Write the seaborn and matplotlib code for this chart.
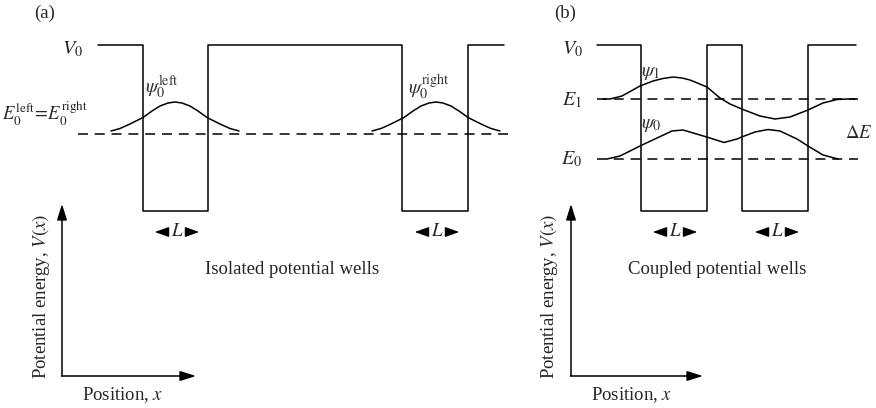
"""
Isolated vs coupled square potential wells (schematic).
Panel (a): two isolated wells with degenerate ground states.
Panel (b): two coupled wells with split levels E0 / E1.
"""

import matplotlib.pyplot as plt
import seaborn as sns

# ==========================================
# DATA (pixel frame)
# ==========================================
# potential profile, panel (a)
POT_A_X = [98, 143, 143, 208, 208, 402, 402, 468, 468, 504]
POT_A_Y = [45, 45, 211, 211, 45, 45, 211, 211, 45, 45]
# potential profile, panel (b)
POT_B_X = [597, 641, 641, 707, 707, 742, 742, 808, 808, 856]
POT_B_Y = [45, 45, 211, 211, 45, 45, 211, 211, 45, 45]

# energy levels
E_A = 134
E_B0, E_B1 = 159, 99

# ground state of one isolated well (offset from well centre)
GAUSS_DX = [-64, -55, -45, -32, -23, -15, -7, 0, 7, 15, 23, 32, 45, 55, 64]
GAUSS_Y = [131, 128.5, 124, 117.5, 111, 106, 103, 102, 103, 106, 111, 117.5, 124, 128.5, 131]
WELL_A_CENTRES = [175, 436]

# coupled-well states
PSI1_X = [603, 610, 622, 640, 653, 663, 673, 682, 690, 707, 720, 730, 743, 760, 775, 790, 808, 823, 837, 848, 855]
PSI1_Y = [99, 99, 96, 86, 81, 78.5, 77, 78, 80, 87, 98, 104, 109.5, 116, 119, 117, 110, 103, 99.5, 99, 99]
PSI0_X = [607, 620, 640, 657, 672, 683, 700, 710, 724, 737, 743, 755, 768, 780, 797, 808, 823, 838]
PSI0_Y = [159, 156, 146, 138, 131, 130, 135, 138, 142.5, 139, 136.5, 132, 129.5, 131, 139, 146, 155, 159]

# well-width markers (left tip, label, right tip)
L_A = [(152, 177, 202), (412, 437, 462)]
L_B = [(650, 675, 700), (752, 777, 802)]

# ==========================================
# STYLE
# ==========================================
sns.set_theme(style="white")
plt.rcParams["font.family"] = ["Liberation Serif", "DejaVu Serif"]
plt.rcParams["mathtext.fontset"] = "stix"

LW = 1.1
DASH = (0, (6.5, 4.5))
FS = 13.5


def draw_L(ax, left, mid, right, y=232):
    aprops = dict(arrowstyle="-|>,head_length=0.7,head_width=0.25", color="black", lw=1.0)
    ax.annotate("", xy=(left, y), xytext=(mid - 12, y), arrowprops=aprops)
    ax.annotate("", xy=(right, y), xytext=(mid + 12, y), arrowprops=aprops)
    ax.text(mid, y, r"$L$", ha="center", va="center", fontsize=FS)


def draw_axes_arrows(ax, x0, y0, ytip, xtip, ylab_x, xlab_x):
    aprops = dict(arrowstyle="-|>,head_length=0.8,head_width=0.25", color="black", lw=1.1,
                  shrinkA=0, shrinkB=0)
    ax.annotate("", xy=(x0, ytip), xytext=(x0, y0), arrowprops=aprops)
    ax.annotate("", xy=(xtip, y0), xytext=(x0 - 0.5, y0), arrowprops=aprops)
    ax.text(ylab_x, 296, r"Potential energy, $V(x)$", rotation=90,
            ha="center", va="center", fontsize=FS)
    ax.text(xlab_x, 395, r"Position, $x$", ha="center", va="center", fontsize=FS)


def main():
    fig = plt.figure(figsize=(8.76, 4.08), dpi=100)
    ax = fig.add_axes([0, 0, 1, 1])
    ax.set_xlim(0, 876)
    ax.set_ylim(408, 0)
    ax.axis("off")

    # ---------------- panel (a) ----------------
    sns.lineplot(x=POT_A_X, y=POT_A_Y, sort=False, estimator=None, color="black", lw=LW, ax=ax)
    ax.plot([78, 512], [E_A, E_A], color="black", lw=LW, ls=DASH)
    for c in WELL_A_CENTRES:
        sns.lineplot(x=[c + d for d in GAUSS_DX], y=GAUSS_Y, sort=False, estimator=None,
                     color="black", lw=LW, ax=ax)

    ax.text(45, 13, "(a)", ha="center", va="center", fontsize=FS)
    ax.text(73, 49, r"$V_0$", ha="center", va="center", fontsize=FS + 1)
    ax.text(162, 87, r"$\psi_0^{\mathrm{left}}$", ha="center", va="center", fontsize=FS + 1,
            color="#333333")
    ax.text(429, 87, r"$\psi_0^{\mathrm{right}}$", ha="center", va="center", fontsize=FS + 1,
            color="#333333")
    ax.text(45, 114, r"$E_0^{\mathrm{left}}\!=\!E_0^{\mathrm{right}}$", ha="center", va="center",
            fontsize=FS)
    for left, mid, right in L_A:
        draw_L(ax, left, mid, right)
    ax.text(292, 269, "Isolated potential wells", ha="center", va="center", fontsize=FS)
    draw_axes_arrows(ax, 62, 376, 204, 196, 41, 123)

    # ---------------- panel (b) ----------------
    sns.lineplot(x=POT_B_X, y=POT_B_Y, sort=False, estimator=None, color="black", lw=LW, ax=ax)
    ax.plot([597, 858], [E_B1, E_B1], color="black", lw=LW, ls=DASH)
    ax.plot([597, 858], [E_B0, E_B0], color="black", lw=LW, ls=DASH)
    sns.lineplot(x=PSI1_X, y=PSI1_Y, sort=False, estimator=None, color="black", lw=LW, ax=ax)
    sns.lineplot(x=PSI0_X, y=PSI0_Y, sort=False, estimator=None, color="black", lw=LW, ax=ax)

    ax.text(565, 13, "(b)", ha="center", va="center", fontsize=FS)
    ax.text(573, 49, r"$V_0$", ha="center", va="center", fontsize=FS + 1)
    ax.text(572, 100, r"$E_1$", ha="center", va="center", fontsize=FS + 1)
    ax.text(572, 159, r"$E_0$", ha="center", va="center", fontsize=FS + 1)
    ax.text(651, 73, r"$\psi_1$", ha="center", va="center", fontsize=FS + 1, color="#333333")
    ax.text(651, 124, r"$\psi_0$", ha="center", va="center", fontsize=FS + 1, color="#333333")
    ax.text(859, 133, r"$\Delta E$", ha="center", va="center", fontsize=FS)
    for left, mid, right in L_B:
        draw_L(ax, left, mid, right)
    ax.text(717, 269, "Coupled potential wells", ha="center", va="center", fontsize=FS)
    draw_axes_arrows(ax, 571, 376, 204, 703, 549, 632)

    fig.savefig("out.png", dpi=100)
    plt.close(fig)


if __name__ == "__main__":
    main()
